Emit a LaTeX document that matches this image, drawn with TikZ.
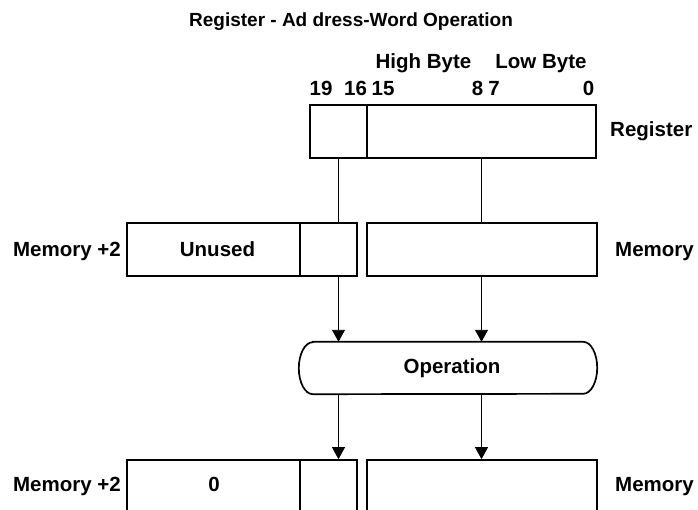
\documentclass[tikz,border=0pt]{standalone}
\usepackage{fontspec}
\setmainfont{Liberation Sans}
\usetikzlibrary{arrows.meta}
\begin{document}
\begin{tikzpicture}[x=1pt,y=-1pt,
  ttl/.style={font=\bfseries\fontsize{19}{22}\selectfont, inner sep=0pt},
  txt/.style={font=\bfseries\fontsize{20.5}{24}\selectfont, inner sep=0pt},
  box/.style={draw, line width=1.7pt, inner sep=0pt, minimum height=53pt, font=\bfseries\fontsize{20.5}{24}\selectfont},
  conn/.style={line width=0.9pt},
  arr/.style={conn, -{Triangle[length=12pt,width=13pt]}},
  pill/.style={line width=1.7pt}]
\useasboundingbox (0,0) rectangle (698,510);
\clip (0,0) rectangle (698,510);
% title
\node[ttl, anchor=base] (title) at (351,27) {Register - Ad dress-Word Operation};
% register
\node[txt, anchor=base] (hb) at (423.5,69) {High Byte};
\node[txt, anchor=base] (lb) at (541,69) {Low Byte};
\node[txt, anchor=base] (n19) at (321,96) {19};
\node[txt, anchor=base] (n16) at (355.5,96) {16};
\node[txt, anchor=base] (n15) at (383,96) {15};
\node[txt, anchor=base] (n8) at (477.5,96) {8};
\node[txt, anchor=base] (n7) at (494,96) {7};
\node[txt, anchor=base] (n0) at (588.5,96) {0};
\node[box, minimum width=57pt] (regA) at (338.5,131.5) {};
\node[box, minimum width=229pt] (regB) at (481.5,131.5) {};
\node[txt, anchor=base west] (reglbl) at (610,137) {Register};
% memory row
\node[box, minimum width=173pt] (memL) at (213.5,249.5) {\hspace*{8pt}Unused};
\node[box, minimum width=57pt] (memA) at (328.5,249.5) {};
\node[box, minimum width=230pt] (memR) at (482,249.5) {};
\node[txt, anchor=base east] (m2lbl) at (121,257) {Memory +2};
\node[txt, anchor=base west] (mlbl) at (615,257) {Memory};
% operation
\node[txt, minimum width=298pt, minimum height=52pt] (op) at (448,368) {\hspace*{8pt}Operation};
\draw[pill] ([xshift=14pt]op.north west) -- ([xshift=-14pt]op.north east)
  arc[start angle=90,end angle=-90,x radius=14pt,y radius=26pt]
  -- ([xshift=14pt]op.south west)
  arc[start angle=270,end angle=90,x radius=14pt,y radius=26pt] -- cycle;
% bottom row
\node[box, minimum width=173pt, minimum height=60pt] (botL) at (213.5,490) {};
\node[box, minimum width=57pt, minimum height=60pt] (botA) at (328.5,490) {};
\node[box, minimum width=230pt, minimum height=60pt] (botR) at (482,490) {};
\node[txt, anchor=base] (zero) at (214,491) {0};
\node[txt, anchor=base east] (m2lblb) at (121,491) {Memory +2};
\node[txt, anchor=base west] (mlblb) at (615,491) {Memory};
% connectors
\draw[conn] (regA.south) -- (regA.south |- memA.north);
\draw[conn] (regB.south) -- (regB.south |- memR.north);
\draw[arr] (regA.south |- memA.south) -- (regA.south |- op.north);
\draw[arr] (regB.south |- memR.south) -- (regB.south |- op.north);
\draw[arr] (regA.south |- op.south) -- (regA.south |- botA.north);
\draw[arr] (regB.south |- op.south) -- (regB.south |- botR.north);
\end{tikzpicture}
\end{document}
